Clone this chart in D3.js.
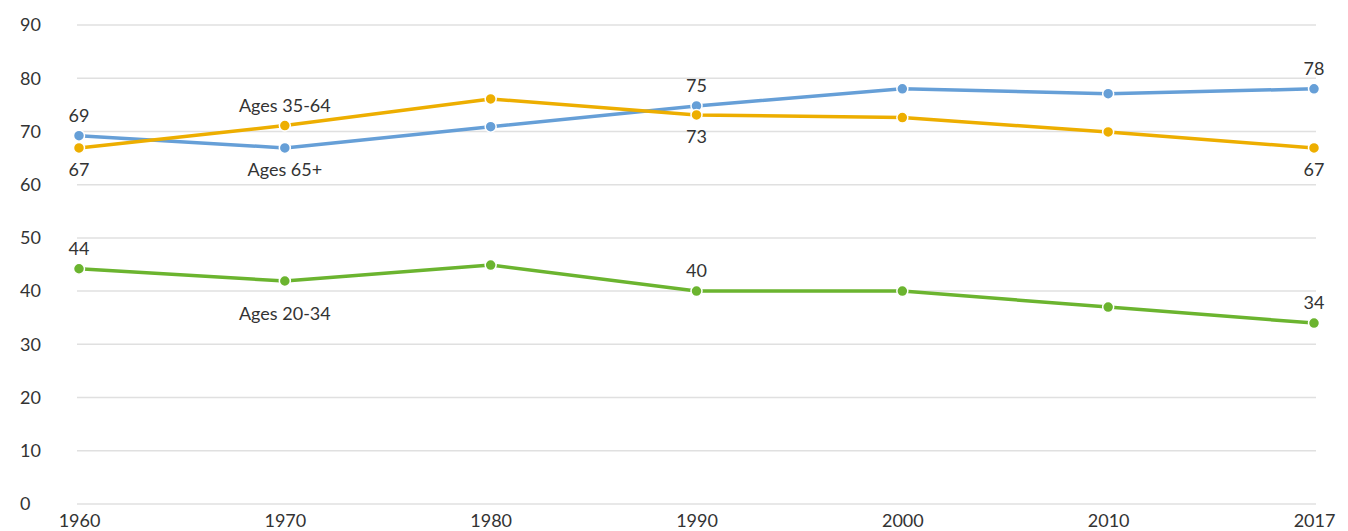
<!DOCTYPE html>
<html><head><meta charset="utf-8">
<script src="https://cdn.jsdelivr.net/npm/d3@7"></script>
<style>body{margin:0;background:#fff}svg{display:block;font-family:Lato,"Open Sans",sans-serif}</style>
</head><body><svg id="c" width="1348" height="531"></svg>
<script>
const years = ["1960","1970","1980","1990","2000","2010","2017"];
const ages65 = [69.2, 66.9, 70.9, 74.8, 78.0, 77.1, 78.0];
const ages35 = [66.9, 71.1, 76.1, 73.1, 72.6, 69.9, 66.9];
const ages20 = [44.2, 41.9, 44.9, 40.0, 40.0, 37.0, 34.0];
const yTicks = [0,10,20,30,40,50,60,70,80,90];
const series = [
  {name:"Ages 65+", values:ages65, color:"#669fd7"},
  {name:"Ages 35-64", values:ages35, color:"#edae00"},
  {name:"Ages 20-34", values:ages20, color:"#6bb42f"}
];
// [series index, year index, text, position]
const labels = [
  [0,0,"69","above"],[1,0,"67","below"],
  [1,1,"Ages 35-64","above"],[0,1,"Ages 65+","below"],
  [0,3,"75","above"],[1,3,"73","below"],
  [0,6,"78","above"],[1,6,"67","below"],
  [2,0,"44","above"],[2,3,"40","above"],[2,6,"34","above"],
  [2,1,"Ages 20-34","farbelow"]
];
const offsets = {above:-20, below:22, farbelow:33};
const svg = d3.select("#c");
const x = d3.scalePoint().domain(years).range([79,1314]);
const y = d3.scaleLinear().domain([0,90]).range([504,25]);
const grid = svg.append("g");
grid.selectAll("line").data(yTicks).join("line")
  .attr("x1",77).attr("x2",1316).attr("y1",d=>y(d)).attr("y2",d=>y(d))
  .attr("stroke","#e0e0e0").attr("stroke-width",1.5);
svg.append("g").selectAll("text").data(yTicks).join("text")
  .attr("x",20).attr("y",d=>y(d)).attr("dy","0.35em")
  .attr("font-size",18).attr("fill","#333").text(d=>d);
const xAxis = svg.append("g").attr("transform","translate(0,504)")
  .call(d3.axisBottom(x).tickSize(0).tickPadding(10));
xAxis.select(".domain").remove();
xAxis.selectAll("text").attr("font-size",18).attr("fill","#333").attr("font-family","Lato,'Open Sans',sans-serif");
const line = d3.line().x((d,i)=>x(years[i])).y(d=>y(d));
series.forEach(s=>{
  svg.append("path").datum(s.values).attr("d",line).attr("fill","none")
    .attr("stroke",s.color).attr("stroke-width",3.5).attr("stroke-linejoin","round");
});
series.forEach(s=>{
  svg.append("g").selectAll("circle").data(s.values).join("circle")
    .attr("cx",(d,i)=>x(years[i])).attr("cy",d=>y(d)).attr("r",5.5)
    .attr("fill",s.color).attr("stroke","#fff").attr("stroke-width",1.5);
});
svg.append("g").selectAll("text").data(labels).join("text")
  .attr("x",d=>x(years[d[1]]))
  .attr("y",d=>y(series[d[0]].values[d[1]]) + offsets[d[3]])
  .attr("dy","0.35em").attr("text-anchor","middle")
  .attr("font-size",18).attr("fill","#333").text(d=>d[2]);
</script></body></html>
